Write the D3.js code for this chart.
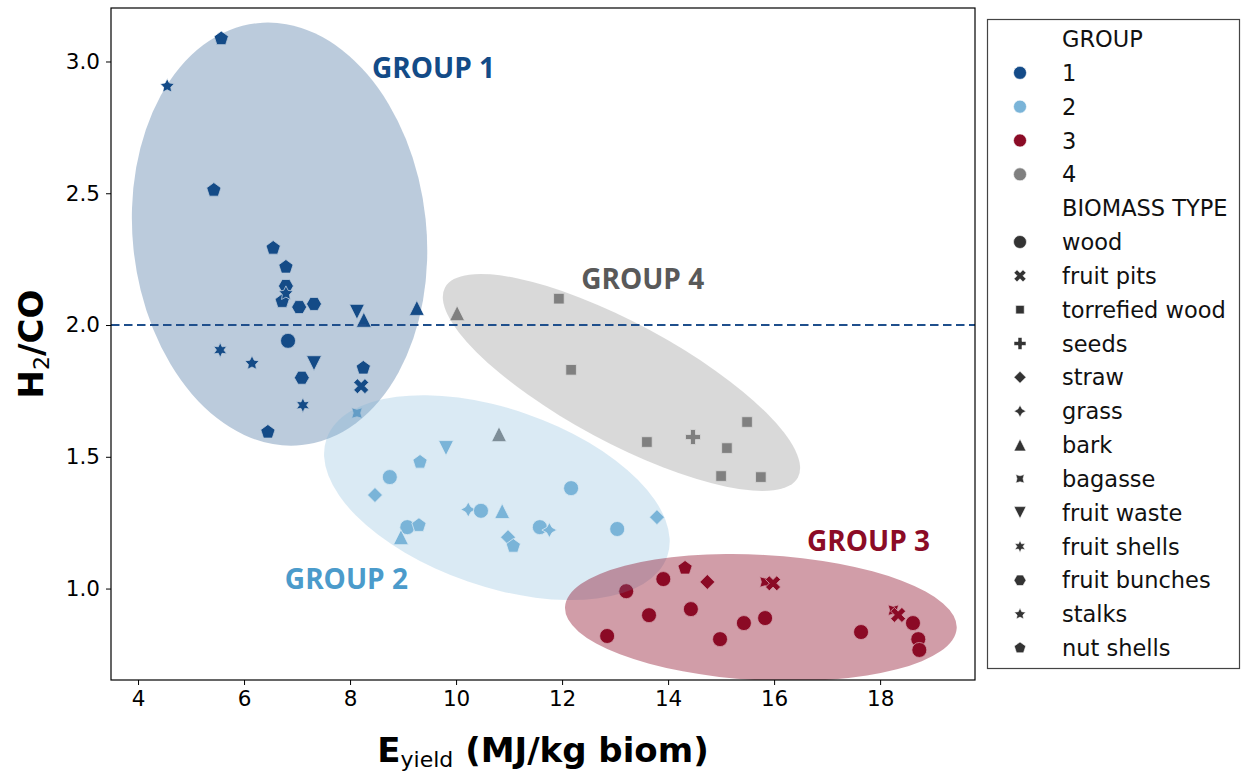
<!DOCTYPE html>
<html>
<head>
<meta charset="utf-8">
<script src="https://cdn.jsdelivr.net/npm/d3@7"></script>
<style>
  body { margin: 0; background: #fff; }
  svg { display: block; }
</style>
</head>
<body>
<div id="chart"></div>
<script>
// groups and biomass types
var groups = ["1", "2", "3", "4"];
var groupColours = ["#144b88", "#7ab4d8", "#8b0b26", "#808080"];
var biomassTypes = ["wood", "fruit pits", "torrefied wood", "seeds", "straw", "grass", "bark",
    "bagasse", "fruit waste", "fruit shells", "fruit bunches", "stalks", "nut shells"];

// points: [E_yield, H2/CO, biomass type]
var group1 = [
    [5.57, 3.087, "nut shells"], [4.55, 2.907, "stalks"], [5.43, 2.512, "nut shells"],
    [6.55, 2.292, "nut shells"], [6.79, 2.22, "nut shells"], [6.79, 2.148, "fruit bunches"],
    [6.72, 2.09, "nut shells"], [6.79, 2.12, "stalks"], [7.04, 2.068, "fruit bunches"],
    [7.32, 2.08, "fruit bunches"], [8.13, 2.05, "fruit waste"], [8.26, 2.02, "bark"],
    [9.26, 2.065, "bark"], [6.83, 1.94, "wood"], [5.55, 1.905, "fruit shells"],
    [6.15, 1.855, "stalks"], [7.32, 1.855, "fruit waste"], [8.25, 1.837, "nut shells"],
    [7.09, 1.80, "fruit bunches"], [8.21, 1.768, "fruit pits"], [7.11, 1.696, "fruit shells"],
    [6.45, 1.594, "nut shells"]
];
var group2 = [
    [8.13, 1.666, "bagasse"], [9.81, 1.533, "fruit waste"], [9.32, 1.48, "nut shells"],
    [8.75, 1.423, "wood"], [8.47, 1.355, "straw"], [10.23, 1.30, "grass"],
    [10.47, 1.295, "wood"], [10.87, 1.294, "bark"], [12.17, 1.381, "wood"],
    [11.58, 1.233, "wood"], [11.76, 1.222, "grass"], [13.04, 1.226, "wood"],
    [13.79, 1.271, "straw"], [10.98, 1.195, "straw"], [11.08, 1.161, "nut shells"],
    [9.08, 1.233, "wood"], [9.30, 1.24, "nut shells"], [8.96, 1.195, "bark"]
];
var group3 = [
    [13.21, 0.99, "wood"], [13.91, 1.036, "wood"], [14.32, 1.078, "nut shells"],
    [14.74, 1.025, "straw"], [15.83, 1.025, "bagasse"], [15.98, 1.02, "fruit pits"],
    [13.64, 0.899, "wood"], [14.43, 0.922, "wood"], [12.85, 0.82, "wood"],
    [14.98, 0.808, "wood"], [15.43, 0.869, "wood"], [15.83, 0.888, "wood"],
    [17.64, 0.835, "wood"], [18.25, 0.918, "bagasse"], [18.34, 0.90, "fruit pits"],
    [18.62, 0.869, "wood"], [18.72, 0.808, "wood"], [18.74, 0.767, "wood"]
];
var group4 = [
    [10.81, 1.586, "bark"], [10.02, 2.045, "bark"], [11.94, 2.10, "torrefied wood"],
    [12.17, 1.83, "torrefied wood"], [13.60, 1.556, "torrefied wood"], [14.47, 1.575, "seeds"],
    [15.49, 1.632, "torrefied wood"], [15.11, 1.533, "torrefied wood"],
    [15.00, 1.427, "torrefied wood"], [15.75, 1.423, "torrefied wood"]
];

// group ellipses: centre, half-axes (data units), tilt in degrees
var ellipseX = [6.67, 10.77, 15.75, 13.12];
var ellipseY = [2.345, 1.345, 0.89, 1.782];
var ellipseRx = [2.77, 3.40, 3.70, 3.78];
var ellipseRy = [0.805, 0.337, 0.238, 0.226];
var ellipseAngle = [-6, 19, 3.1, 28.3];

// group labels
var labelText = ["GROUP 1", "GROUP 2", "GROUP 3", "GROUP 4"];
var labelX = [8.415, 6.77, 16.62, 12.36];
var labelY = [2.937, 0.998, 1.142, 2.137];
var labelColours = ["#134b87", "#4b9bcb", "#8b0b26", "#595959"];

var xTicks = [4, 6, 8, 10, 12, 14, 16, 18];
var yTicks = [1.0, 1.5, 2.0, 2.5, 3.0];
var threshold = 2.0;

var W = 1241, H = 773;
var plot = { left: 111, right: 975, top: 8, bottom: 680 };

var svg = d3.select("#chart").append("svg")
    .attr("width", W)
    .attr("height", H)
    .style("font-family", "'DejaVu Sans', sans-serif");

var x = d3.scaleLinear().domain([3.49, 19.79]).range([plot.left, plot.right]);
var y = d3.scaleLinear().domain([0.653, 3.203]).range([plot.bottom, plot.top]);

svg.append("clipPath").attr("id", "plotclip")
    .append("rect")
    .attr("x", plot.left).attr("y", plot.top)
    .attr("width", plot.right - plot.left).attr("height", plot.bottom - plot.top);

// marker shapes, like the seaborn ones
function regular(n, r, rot) {
    var pts = [];
    for (var k = 0; k < n; k++) {
        var t = (2 * Math.PI * k / n) + Math.PI / 2 + rot * Math.PI / 180;
        pts.push([r * Math.cos(t), -r * Math.sin(t)]);
    }
    return pts;
}
function star(n, r, rot) {
    var pts = [];
    for (var k = 0; k < 2 * n; k++) {
        var rr = k % 2 == 0 ? r : r * 0.5;
        var t = (Math.PI * k / n) + Math.PI / 2 + rot * Math.PI / 180;
        pts.push([rr * Math.cos(t), -rr * Math.sin(t)]);
    }
    return pts;
}
function toPath(pts) {
    return "M" + pts.map(function (p) { return p[0].toFixed(2) + "," + p[1].toFixed(2); }).join("L") + "Z";
}
function markerPath(type, R) {
    switch (type) {
        case "wood":
            return "M" + R + ",0A" + R + "," + R + " 0 1,1 " + (-R) + ",0A" + R + "," + R + " 0 1,1 " + R + ",0Z";
        case "fruit pits":
            var xf = [[0.25, 0], [0.5, 0.25], [0.75, 0], [1, 0.25], [0.75, 0.5], [1, 0.75],
                [0.75, 1], [0.5, 0.75], [0.25, 1], [0, 0.75], [0.25, 0.5], [0, 0.25]];
            return toPath(xf.map(function (p) { return [(p[0] - 0.5) * 2 * R, (p[1] - 0.5) * 2 * R]; }));
        case "torrefied wood":
            return toPath(regular(4, R, 45));
        case "seeds":
            var a = R / 3, b = R;
            return toPath([[-a, -b], [a, -b], [a, -a], [b, -a], [b, a], [a, a], [a, b], [-a, b],
                [-a, a], [-b, a], [-b, -a], [-a, -a]]);
        case "straw":
            return toPath(regular(4, R, 0));
        case "grass":
            return toPath(star(4, R, 0));
        case "bark":
            return toPath([[0, -R], [-R, R], [R, R]]);
        case "bagasse":
            return toPath(star(4, R, 45));
        case "fruit waste":
            return toPath([[0, R], [-R, -R], [R, -R]]);
        case "fruit shells":
            return toPath(star(6, R, 0));
        case "fruit bunches":
            return toPath(regular(6, R, 30));
        case "stalks":
            return toPath(star(5, R, 0));
        case "nut shells":
            return toPath(regular(5, R, 0));
    }
}

// scatter points
var allGroups = [group1, group2, group3, group4];
allGroups.forEach(function (pts, g) {
    svg.append("g").selectAll("path")
        .data(pts)
        .join("path")
        .attr("d", function (d) { return markerPath(d[2], 7.5); })
        .attr("transform", function (d) { return "translate(" + x(d[0]) + "," + y(d[1]) + ")"; })
        .style("fill", groupColours[g])
        .style("stroke", "#fff")
        .style("stroke-width", 0.8);
});

// ellipses on top of points
var ellipseAlpha = [0.29, 0.28, 0.4, 0.3];
var eg = svg.append("g").attr("clip-path", "url(#plotclip)");
groups.forEach(function (g, i) {
    var rxPx = Math.abs(x(ellipseX[i] + ellipseRx[i]) - x(ellipseX[i]));
    var ryPx = Math.abs(y(ellipseY[i] + ellipseRy[i]) - y(ellipseY[i]));
    eg.append("ellipse")
        .attr("cx", 0).attr("cy", 0)
        .attr("rx", rxPx).attr("ry", ryPx)
        .attr("transform", "translate(" + x(ellipseX[i]) + "," + y(ellipseY[i]) + ") rotate(" + ellipseAngle[i] + ")")
        .style("fill", groupColours[i])
        .style("fill-opacity", ellipseAlpha[i]);
});

// threshold line
svg.append("line")
    .attr("x1", plot.left).attr("x2", plot.right)
    .attr("y1", y(threshold)).attr("y2", y(threshold))
    .style("stroke", "#1f4f8c")
    .style("stroke-width", 2)
    .style("stroke-dasharray", "8.5,4.5");

// group labels
labelText.forEach(function (t, i) {
    svg.append("text")
        .attr("x", x(labelX[i]))
        .attr("y", y(labelY[i]))
        .style("font-family", "'Open Sans', sans-serif")
        .style("font-weight", "bold")
        .style("font-size", "28px")
        .style("fill", labelColours[i])
        .text(t);
});

// axes
var xAxis = svg.append("g")
    .attr("transform", "translate(0," + plot.bottom + ")")
    .call(d3.axisBottom(x).tickValues(xTicks).tickSize(5).tickPadding(6).tickFormat(d3.format("d")));
var yAxis = svg.append("g")
    .attr("transform", "translate(" + plot.left + ",0)")
    .call(d3.axisLeft(y).tickValues(yTicks).tickSize(5).tickPadding(6).tickFormat(d3.format(".1f")));
[xAxis, yAxis].forEach(function (a) {
    a.select(".domain").remove();
    a.selectAll("text").style("font-family", "'DejaVu Sans', sans-serif").style("font-size", "21.5px").style("fill", "#000");
    a.selectAll("line").style("stroke", "#000");
});

svg.append("rect")
    .attr("x", plot.left).attr("y", plot.top)
    .attr("width", plot.right - plot.left).attr("height", plot.bottom - plot.top)
    .style("fill", "none").style("stroke", "#000").style("stroke-width", 1.2);

// axis titles
var xt = svg.append("text")
    .attr("x", (plot.left + plot.right) / 2)
    .attr("y", 762)
    .attr("text-anchor", "middle")
    .style("font-weight", "bold")
    .style("font-size", "34px");
xt.append("tspan").text("E");
xt.append("tspan").attr("dy", 5).style("font-size", "22px").style("font-weight", "normal").text("yield");
xt.append("tspan").attr("dy", -5).text(" (MJ/kg biom)");

var yt = svg.append("text")
    .attr("transform", "translate(43," + ((plot.top + plot.bottom) / 2) + ") rotate(-90)")
    .attr("text-anchor", "middle")
    .style("font-weight", "bold")
    .style("font-size", "34px");
yt.append("tspan").text("H");
yt.append("tspan").attr("dy", 6).style("font-size", "22px").style("font-weight", "normal").text("2");
yt.append("tspan").attr("dy", -6).text("/CO");

// legend
var legend = svg.append("g");
legend.append("rect")
    .attr("x", 987.5).attr("y", 19.5).attr("width", 252).attr("height", 649)
    .style("fill", "#fff").style("stroke", "#444").style("stroke-width", 1.2);

var rows = [{ label: "GROUP" }];
groups.forEach(function (g, i) { rows.push({ label: g, type: "wood", colour: groupColours[i] }); });
rows.push({ label: "BIOMASS TYPE" });
biomassTypes.forEach(function (t) { rows.push({ label: t, type: t, colour: "#333" }); });

var rowStep = 33.83;
rows.forEach(function (r, i) {
    var cy = 39 + i * rowStep;
    if (r.type) {
        legend.append("path")
            .attr("d", markerPath(r.type, r.type == "wood" ? 6.5 : 6))
            .attr("transform", "translate(1020," + cy + ")")
            .style("fill", r.colour)
            .style("stroke", "#fff")
            .style("stroke-width", 0.6);
    }
    legend.append("text")
        .attr("x", 1062)
        .attr("y", cy)
        .attr("dy", "0.36em")
        .style("font-size", "22.5px")
        .style("fill", "#111")
        .text(r.label);
});
</script>
</body>
</html>
